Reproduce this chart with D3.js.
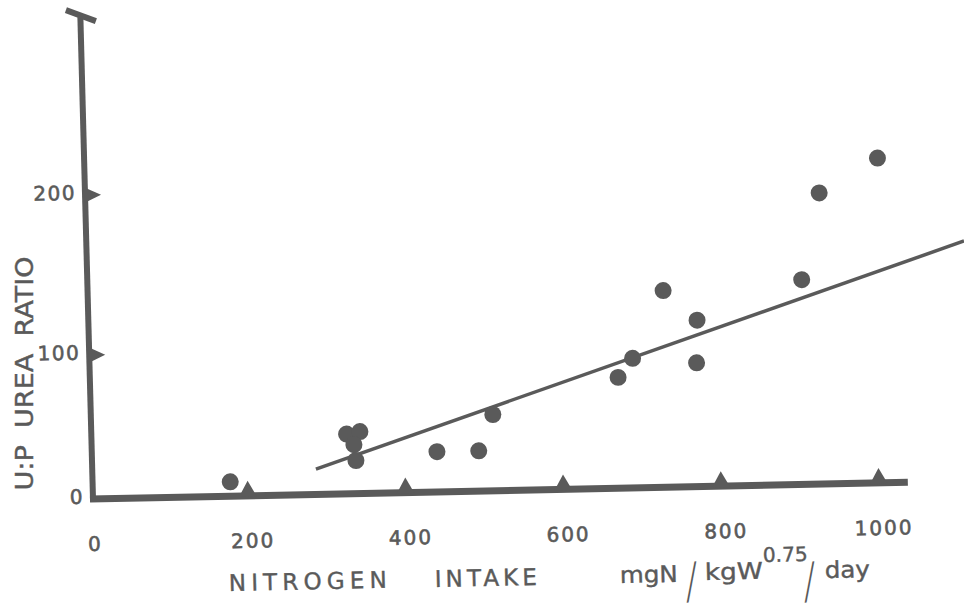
<!DOCTYPE html>
<html>
<head>
<meta charset="utf-8">
<script src="https://cdn.jsdelivr.net/npm/d3@7"></script>
<style>
  html, body { margin: 0; padding: 0; background: #ffffff; }
  svg { display: block; }
  text { font-family: "DejaVu Sans", "Noto Sans", sans-serif; fill: #5a5a5a; white-space: pre; }
</style>
</head>
<body>
<script>
// ---- data ----
const intake = [178, 327, 344, 336, 338, 441, 494, 513, 673, 692, 733, 775, 773, 909, 934, 1009];
const ratio  = [10, 41.5, 43, 34, 23, 28, 28, 53, 77, 90, 133, 114, 86, 138, 192, 213];
const fitIntake = [287, 1116];
const fitRatio  = [17.6, 160.1];
const xTickMarks  = [200, 400, 600, 800, 1000];
const xTickLabels = ["0", "200", "400", "600", "800", "1000"];
const xTickValues = [0, 200, 400, 600, 800, 1000];
const yTickMarks  = [100, 200];
const yTickLabels = ["0", "100", "200"];
const yTickValues = [0, 100, 200];

const W = 964, H = 613;
const ink = "#5a5a5a";

const svg = d3.select("body").append("svg").attr("width", W).attr("height", H);

// slightly skewed frame (the drawing is hand-made and a bit tilted)
const a1 = 1.17 * Math.PI / 180, a2 = 1.5 * Math.PI / 180;
const M = {a: Math.cos(a1), b: -Math.sin(a1), c: Math.sin(a2), d: Math.cos(a2), e: 93, f: 499};
const det = M.a * M.d - M.b * M.c;
function toLocal(X, Y) {
  const dx = X - M.e, dy = Y - M.f;
  return [(M.d * dx - M.c * dy) / det, (-M.b * dx + M.a * dy) / det];
}
const g = svg.append("g")
  .attr("transform", `matrix(${M.a},${M.b},${M.c},${M.d},${M.e},${M.f})`);

const x = d3.scaleLinear().domain([0, 1000]).range([-2.75, 786]);
const y = d3.scaleLinear().domain([0, 100, 200]).range([0, -144, -304]);

// axes
g.append("line").attr("x1", -3).attr("y1", 0).attr("x2", 815).attr("y2", 0)
  .attr("stroke", ink).attr("stroke-width", 7);
g.append("line").attr("x1", 0).attr("y1", 3).attr("x2", 0).attr("y2", -482)
  .attr("stroke", ink).attr("stroke-width", 6);
// end cap of y axis
g.append("line").attr("x1", -14.3).attr("y1", -489.3).attr("x2", 15.4).attr("y2", -477.7)
  .attr("stroke", ink).attr("stroke-width", 6).attr("stroke-linecap", "butt");

// x tick triangles
g.selectAll("path.xt").data(xTickMarks).join("path").attr("class", "xt")
  .attr("d", d => `M${x(d) - 9},1 L${x(d) + 9},1 L${x(d)},-15 Z`)
  .attr("fill", ink);
// y tick triangles
g.selectAll("path.yt").data(yTickMarks).join("path").attr("class", "yt")
  .attr("d", d => `M-1,${y(d) - 8} L-1,${y(d) + 8} L16,${y(d)} Z`)
  .attr("fill", ink);

// tick labels
g.selectAll("text.xl").data(xTickValues).join("text").attr("class", "xl")
  .attr("x", d => x(d) + 4).attr("y", 52)
  .attr("text-anchor", "middle").attr("font-size", 20).attr("letter-spacing", 2)
  .attr("stroke", ink).attr("stroke-width", 0.6)
  .text((d, i) => xTickLabels[i]);
g.selectAll("text.yl").data(yTickValues).join("text").attr("class", "yl")
  .attr("x", -9).attr("y", d => y(d) + 4.5)
  .attr("text-anchor", "end").attr("font-size", 20).attr("letter-spacing", 1.5)
  .attr("stroke", ink).attr("stroke-width", 0.6)
  .text((d, i) => yTickLabels[i]);

// regression line
g.append("line")
  .attr("x1", x(fitIntake[0])).attr("y1", y(fitRatio[0]))
  .attr("x2", x(fitIntake[1])).attr("y2", y(fitRatio[1]))
  .attr("stroke", ink).attr("stroke-width", 3.5);

// data points
g.selectAll("circle.pt").data(intake).join("circle").attr("class", "pt")
  .attr("cx", d => x(d)).attr("cy", (d, i) => y(ratio[i]))
  .attr("r", 8.5).attr("fill", ink);

// x title and unit
function placeText(X, Y, str, size, len, adj) {
  const p = toLocal(X, Y);
  const t = g.append("text").attr("x", p[0]).attr("y", p[1])
    .attr("font-size", size).attr("stroke", ink).attr("stroke-width", 0.4).text(str);
  if (len) t.attr("textLength", len).attr("lengthAdjust", adj || "spacing");
  return t;
}
placeText(229, 591, "NITROGEN", 23, 158);
placeText(435, 587, "INTAKE", 23, 102);
placeText(620, 583, "mgN", 23, 58, "spacingAndGlyphs");
placeText(705, 580, "kgW", 23, 58, "spacingAndGlyphs");
placeText(763, 562, "0.75", 20, 45, "spacingAndGlyphs");
placeText(825, 578, "day", 23, 45, "spacingAndGlyphs");
// the big slashes of the unit
function slash(X, Y) {
  const p = toLocal(X, Y);
  g.append("text").attr("transform", `translate(${p[0]},${p[1]}) scale(0.7,1)`)
    .attr("text-anchor", "middle").attr("font-size", 50).attr("font-weight", 300)
    .text("/");
}
slash(692, 598);
slash(810, 598);

// y title
svg.append("text")
  .attr("transform", "translate(33,373.5) rotate(-90)")
  .attr("text-anchor", "middle").attr("font-size", 24.5)
  .attr("stroke", ink).attr("stroke-width", 0.4)
  .attr("textLength", 234).attr("lengthAdjust", "spacingAndGlyphs")
  .text("U:P  UREA  RATIO");
</script>
</body>
</html>
